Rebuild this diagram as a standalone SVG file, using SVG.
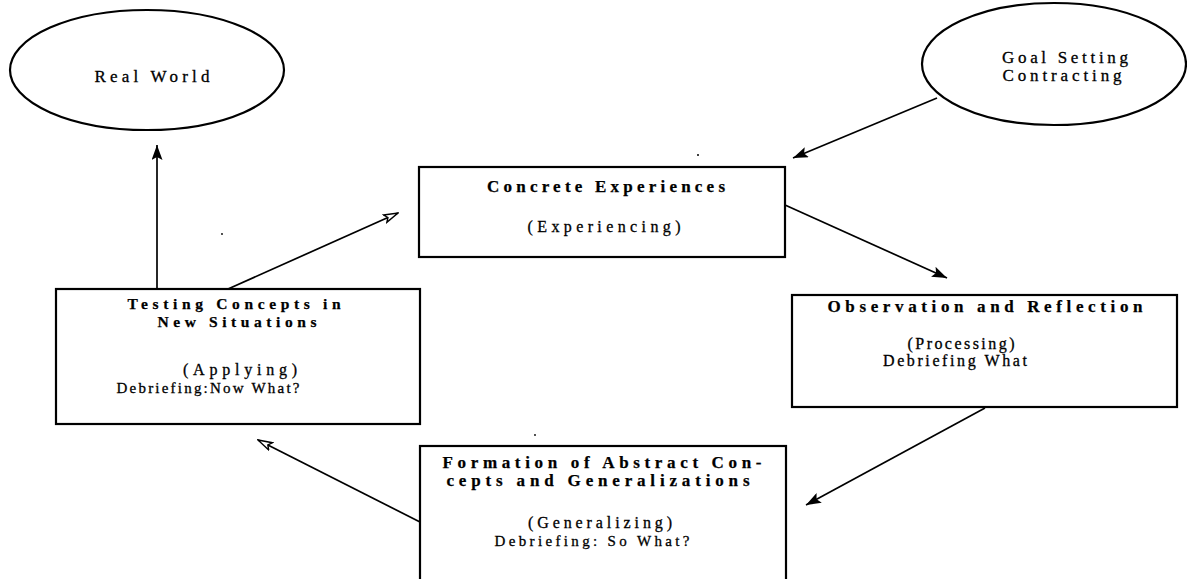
<svg xmlns="http://www.w3.org/2000/svg" width="1187" height="579" viewBox="0 0 1187 579">
  <style>
    .shape { fill: #fff; stroke: #000; stroke-width: 2.2; }
    .conn { fill: none; stroke: #000; stroke-width: 1.7; }
    .t { font-family: "Liberation Serif", "Times New Roman", serif; font-size: 16px; fill: #000; text-anchor: middle; stroke: #000; stroke-width: 0.3; }
    .b { font-weight: bold; font-size: 17px; stroke-width: 0.25; }
    .big { font-size: 17px; }
    .small { font-size: 15px; }
    .tight { font-size: 15.5px; }
    .speck { fill: #000; }
  </style>
  <defs>
    <marker id="solid" viewBox="0 0 15 11" refX="15" refY="5.5" markerWidth="15" markerHeight="11" markerUnits="userSpaceOnUse" orient="auto">
      <path d="M0,0 L15,5.5 L0,11 L3,5.5 z" fill="#000"/>
    </marker>
    <marker id="open" viewBox="0 0 16 10" refX="15" refY="5" markerWidth="16" markerHeight="10" markerUnits="userSpaceOnUse" orient="auto">
      <path d="M1,1 L15,5 L1,9 L4,5 z" fill="#fff" stroke="#000" stroke-width="1.4"/>
    </marker>
  </defs>
  <rect width="1187" height="579" fill="#fff"/>

  <g id="connectors">
    <line class="conn" x1="157" y1="289" x2="157" y2="145" marker-end="url(#solid)"/>
    <line class="conn" x1="228" y1="289" x2="398" y2="213" marker-end="url(#open)"/>
    <line class="conn" x1="937" y1="98" x2="793" y2="158" marker-end="url(#solid)"/>
    <line class="conn" x1="785" y1="205" x2="947" y2="278" marker-end="url(#solid)"/>
    <line class="conn" x1="985" y1="408" x2="806" y2="505" marker-end="url(#solid)"/>
    <line class="conn" x1="420" y1="522" x2="258" y2="440" marker-end="url(#open)"/>
  </g>

  <g id="real-world">
    <ellipse class="shape" cx="147" cy="70" rx="137" ry="60"/>
    <text class="t big" x="152" y="82" textLength="115" lengthAdjust="spacing">Real World</text>
  </g>

  <g id="goal-setting">
    <ellipse class="shape" cx="1054" cy="64" rx="132" ry="61"/>
    <text class="t big" x="1065" y="63" textLength="126" lengthAdjust="spacing">Goal Setting</text>
    <text class="t big" x="1062" y="81" textLength="119" lengthAdjust="spacing">Contracting</text>
  </g>

  <g id="concrete-experiences">
    <rect class="shape" x="419" y="167" width="366" height="90"/>
    <text class="t b" x="606" y="192" textLength="238" lengthAdjust="spacing">Concrete Experiences</text>
    <text class="t" x="604" y="232" textLength="153" lengthAdjust="spacing">(Experiencing)</text>
  </g>

  <g id="observation-reflection">
    <rect class="shape" x="792" y="295" width="385" height="112"/>
    <text class="t b" x="985" y="312" textLength="315" lengthAdjust="spacing">Observation and Reflection</text>
    <text class="t" x="961" y="349" textLength="107" lengthAdjust="spacing">(Processing)</text>
    <text class="t" x="955" y="366" textLength="144" lengthAdjust="spacing">Debriefing What</text>
  </g>

  <g id="abstract-concepts">
    <rect class="shape" x="420" y="446" width="366" height="140"/>
    <text class="t b" x="602" y="468" textLength="319" lengthAdjust="spacing">Formation of Abstract Con-</text>
    <text class="t b" x="598" y="486" textLength="303" lengthAdjust="spacing">cepts and Generalizations</text>
    <text class="t" x="600" y="528" textLength="144" lengthAdjust="spacing">(Generalizing)</text>
    <text class="t small" x="592" y="546" textLength="195" lengthAdjust="spacing">Debriefing: So What?</text>
  </g>

  <g id="testing-concepts">
    <rect class="shape" x="56" y="289" width="364" height="135"/>
    <text class="t b tight" x="234" y="309" textLength="213" lengthAdjust="spacing">Testing Concepts in</text>
    <text class="t b tight" x="237" y="327" textLength="159" lengthAdjust="spacing">New Situations</text>
    <text class="t" x="240" y="375" textLength="114" lengthAdjust="spacing">(Applying)</text>
    <text class="t small" x="208" y="393" textLength="183" lengthAdjust="spacing">Debriefing:Now What?</text>
  </g>

  <!-- loose specks of toner -->
  <circle class="speck" cx="698" cy="155" r="1"/>
  <circle class="speck" cx="222" cy="234" r="0.9"/>
  <circle class="speck" cx="535" cy="435" r="0.9"/>
</svg>
